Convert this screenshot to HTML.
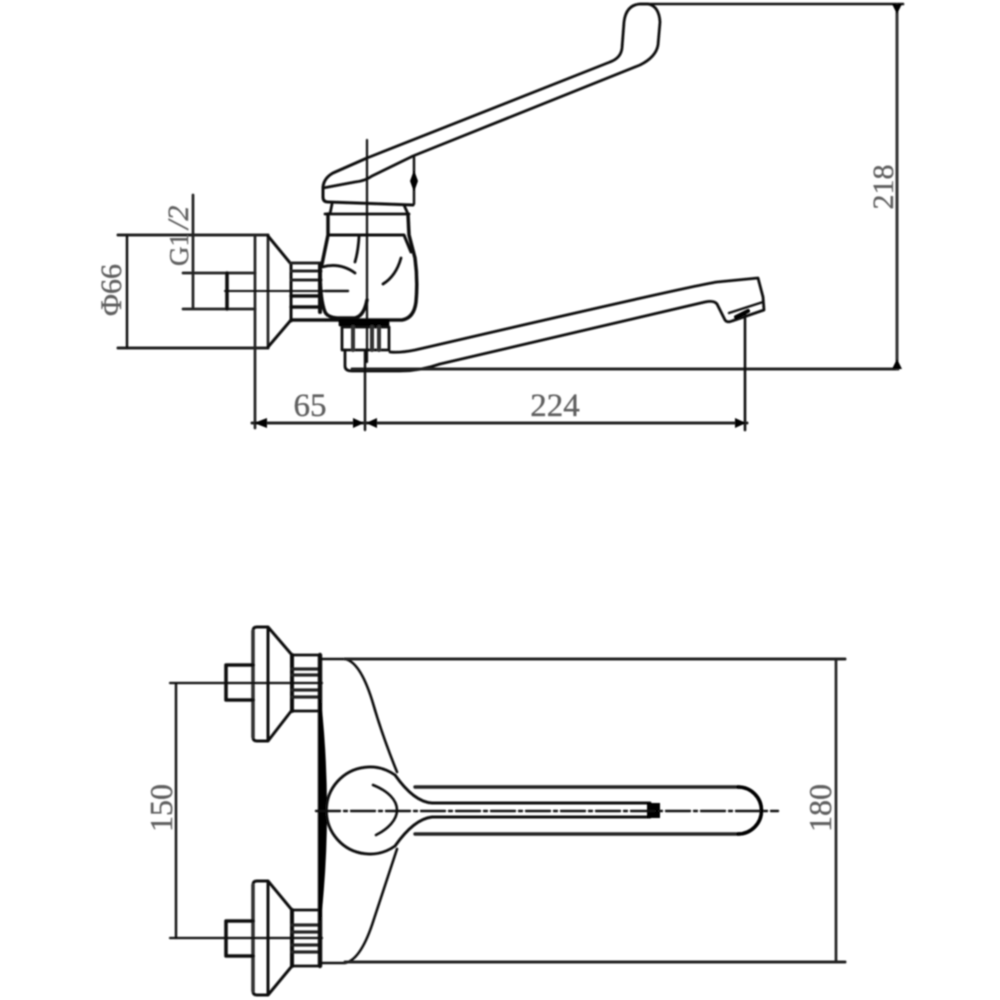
<!DOCTYPE html>
<html><head><meta charset="utf-8"><style>
html,body{margin:0;padding:0;background:#fff}
svg{display:block}
text{font-family:"Liberation Serif",serif;fill:#5e5e5e;stroke:#5e5e5e;stroke-width:.35}
</style></head><body>
<svg width="1000" height="1000" viewBox="0 0 1000 1000" xmlns="http://www.w3.org/2000/svg">
<defs><filter id="b" x="-5%" y="-5%" width="110%" height="110%"><feGaussianBlur stdDeviation="0.85"/></filter></defs>
<rect width="1000" height="1000" fill="#fff"/>
<g filter="url(#b)" fill="none" stroke="#111" stroke-width="2.7" stroke-linecap="round" stroke-linejoin="round">
<!-- TOP VIEW dims -->
<path d="M118 235H268M118 348H268" stroke="#222" stroke-width="3"/>
<path d="M127 236V347" stroke-width="2.5"/>
<path d="M255 235V428M268 235V348" stroke="#222" stroke-width="2.7"/>
<path d="M183 273H255M183 309H255M193 195V309" stroke="#222" stroke-width="2.7"/>
<path d="M227 273V309" stroke-width="3.6"/>
<path d="M225 291H347" stroke-width="2"/>
<path d="M268 236L291 264M268 347L291 320M291 263V321" stroke-width="3"/>
<path d="M291 263H321M291 271H321M291 280H321" stroke="#222" stroke-width="3"/>
<path d="M291 296H321M291 307H321M291 320H325" stroke="#111" stroke-width="3.5"/>
<path d="M320 265V312" stroke-width="4"/>
<!-- handle -->
<path d="M367 158L333 173Q324 178 323 187V197Q323 202 328 202L413 205" stroke-width="3"/>
<path d="M367 158L610 62Q621 58 622 48L624 22Q626 5 640 4H648Q659 6 660 22L658 45Q656 57 640 65L413 156L372 176Q365 181 355 182L323 188" stroke-width="2.8"/>
<path d="M414 157V204" stroke-width="2.4"/>
<path d="M414 170L410 181L414 192L418 181Z" fill="#000" stroke="none"/>
<path d="M367 140V362" stroke-width="2.2"/>
<!-- body -->
<path d="M332 204L330 214M404 205L408 214M325 214H409" stroke-width="2.8"/>
<path d="M328 214V235L322 264M408 214L409 235L415 258Q418 280 416 302Q414 318 402 320H326" stroke-width="3.5"/>
<path d="M328 235H404L411 252" stroke-width="3"/>
<path d="M359 237Q358 252 355 262M401 258Q396 276 383 284M322 267Q340 262 355 273" stroke-width="2.8"/>
<path d="M320 268Q320 300 325 312Q328 318 340 318H355Q364 316 367 300" stroke-width="3.5"/>
<path d="M325 291H348" stroke-width="2.4"/>
<path d="M340 321H388V325H340Z" fill="#000" stroke="#000"/>
<path d="M342 327H389V350H342Z" stroke-width="2.8"/>
<path d="M353 327V350M372 327V350M379 327V350" stroke="#333" stroke-width="4"/>
<path d="M345 350V366Q345 371 352 371H400Q420 371 440 364L705 302Q714 300 717 304L725 320Q727 323 732 321L764 310L763 297L758 278L717 282Q690 286 415 350Q400 353 390 352" stroke-width="2.8"/>
<path d="M729 313L763 302" stroke-width="2.4"/>
<path d="M352 369H898" stroke="#222" stroke-width="3"/>
<!-- right dim -->
<path d="M640 4H903" stroke="#111" stroke-width="2.6"/>
<path d="M897 5V369" stroke="#333" stroke-width="3"/>
<path d="M892 4H902L897 14ZM892 369H902L897 359Z" fill="#000" stroke="none"/>
<!-- bottom dim -->
<path d="M745 312V430" stroke-width="2.6"/>
<path d="M736 317L748 311" stroke="#000" stroke-width="4"/>
<path d="M365 352V430" stroke-width="2.4"/>
<path d="M252 423H747" stroke="#222" stroke-width="3"/>
<path d="M254 423L267 418V428ZM364 423L353 418V428ZM366 423L377 418V428ZM746 423L735 418V428Z" fill="#000" stroke="none"/>
<!-- BOTTOM VIEW -->
<g>
<path d="M253 631Q253 627 257 627H268L292 655M268 627V741M253 631V737Q253 741 257 741H268L292 710" stroke-width="3"/>
<path d="M253 631V737" stroke="#333" stroke-width="3.6"/>
<path d="M292 655V711" stroke-width="4"/>
<path d="M292 655H320M292 711H320" stroke-width="2.8"/>
<path d="M292 669H320M292 675H320M292 690H320M292 697H320" stroke="#222" stroke-width="3.2"/>
<path d="M253 665H226V700H253" stroke-width="3.6"/>
</g>
<g>
<path d="M253 885Q253 881 257 881H268L292 910M268 881V995M253 885V991Q253 995 257 995H268L292 966" stroke-width="3"/>
<path d="M253 885V991" stroke="#333" stroke-width="3.6"/>
<path d="M292 910V966" stroke-width="4"/>
<path d="M292 910H320M292 966H320" stroke-width="2.8"/>
<path d="M292 925H320M292 932H320M292 945H320M292 952H320" stroke="#222" stroke-width="3.2"/>
<path d="M253 921H226V956H253" stroke-width="3.6"/>
</g>
<path d="M170 683H322M170 938H322" stroke-width="2.2"/>
<path d="M176 684V938" stroke-width="2.4"/>
<path d="M320 655V966" stroke-width="4.4"/>
<path d="M320 700Q332 810 320 920Z" fill="#000" stroke="#000" stroke-width="2"/>
<path d="M320 659H345Q360 662 372 700Q382 735 397 772" stroke-width="2.6"/>
<path d="M320 963H345Q360 960 372 925Q385 885 397 849" stroke-width="2.6"/>
<path d="M345 659H845M345 962H845" stroke="#222" stroke-width="3"/>
<path d="M836 660V962" stroke="#222" stroke-width="2.7"/>
<path d="M395 775A43.500 43.500 0 1 0 395 846Q414 819 432 817H650M395 775Q414 802 432 803H650" stroke-width="2.9"/>
<path d="M373 785C388 791 397 800 397 810C397 820 388 829 376 835" stroke-width="2.6"/>
<path d="M415 787H738A23 23 0 0 1 738 834H415" stroke="#222" stroke-width="3.4"/>
<path d="M738 787A23 23 0 0 1 738 834" stroke="#000" stroke-width="3.6"/>
<path d="M647 803H660V818H647Z" fill="#000" stroke="none"/>
<path d="M316 811H778" stroke-width="2.4" stroke-dasharray="24 4 3 4"/>
</g>
<g filter="url(#b)">
<text x="310" y="416" font-size="33" text-anchor="middle">65</text>
<text x="555" y="416" font-size="33" text-anchor="middle">224</text>
<text transform="translate(893,187) rotate(-90)" font-size="30" text-anchor="middle">218</text>
<text transform="translate(121,290) rotate(-90)" font-size="30" text-anchor="middle">Φ66</text>
<text transform="translate(188,266) rotate(-90)" font-size="27">G1</text>
<text transform="translate(188,229) rotate(-90)" font-size="30" font-style="italic">/2</text>
<text transform="translate(172,808) rotate(-90)" font-size="32" text-anchor="middle">150</text>
<text transform="translate(831,808) rotate(-90)" font-size="32" text-anchor="middle">180</text>
</g>
</svg>
</body></html>
